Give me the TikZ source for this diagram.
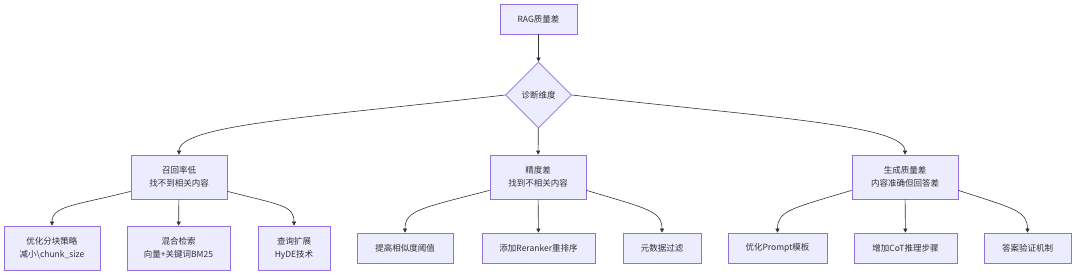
\documentclass[tikz,border=0pt]{standalone}
\usepackage{fontspec}
\setmainfont{Noto Sans CJK SC}
\usetikzlibrary{shapes.geometric,arrows.meta}
\definecolor{nodefill}{HTML}{ECECFF}
\definecolor{nodeline}{HTML}{9370DB}
\definecolor{txt}{HTML}{333333}
\tikzset{
  box/.style={draw=nodeline, fill=nodefill, line width=0.7pt, rectangle, align=center, inner sep=0pt, text=txt, font=\fontsize{8.5}{13}\selectfont},
  dia/.style={draw=nodeline, fill=nodefill, line width=0.7pt, diamond, aspect=1, minimum size=66pt, inner sep=0pt, text=txt, font=\fontsize{8.5}{13}\selectfont},
  edge/.style={draw=txt, line width=0.6pt, -{Triangle[length=4pt,width=4pt]}}
}
\begin{document}
\begin{tikzpicture}[x=1pt,y=-1pt]
\useasboundingbox (0,0) rectangle (1080,276);
\fill[white] (0,0) rectangle (1080,276);
\node[box, minimum width=77pt, minimum height=30pt] (rag) at (538.5,19) {RAG质量差};
\node[dia] (diag) at (538.5,95) {诊断维度};
\node[box, minimum width=96pt, minimum height=44pt] (r1) at (179,177) {召回率低\\找不到相关内容};
\node[box, minimum width=96pt, minimum height=44pt] (r2) at (538,177) {精度差\\找到不相关内容};
\node[box, minimum width=106pt, minimum height=44pt] (r3) at (905,177) {生成质量差\\内容准确但回答差};
\node[box, minimum width=96pt, minimum height=44pt] (l1) at (52,248) {优化分块策略\\减小\textbackslash chunk\_size};
\node[box, minimum width=103pt, minimum height=44pt] (l2) at (178.5,248) {混合检索\\向量+关键词BM25};
\node[box, minimum width=72pt, minimum height=44pt] (l3) at (294,248) {查询扩展\\HyDE技术};
\node[box, minimum width=96pt, minimum height=30pt] (l4) at (405,248) {提高相似度阈值};
\node[box, minimum width=113pt, minimum height=30pt] (l5) at (538.5,248) {添加Reranker重排序};
\node[box, minimum width=78pt, minimum height=30pt] (l6) at (662,248) {元数据过滤};
\node[box, minimum width=99pt, minimum height=30pt] (l7) at (777.5,248) {优化Prompt模板};
\node[box, minimum width=103pt, minimum height=30pt] (l8) at (905.5,248) {增加CoT推理步骤};
\node[box, minimum width=87pt, minimum height=30pt] (l9) at (1027.5,248) {答案验证机制};
\draw[edge] (rag) -- (diag);
\draw[edge] (diag.west) .. controls +(-190,22) and +(0,-30) .. (r1.north);
\draw[edge] (diag) -- (r2);
\draw[edge] (diag.east) .. controls +(190,22) and +(0,-30) .. (r3.north);
\draw[edge] ([yshift=8pt]r1.south west) .. controls +(-55,14) and +(0,-20) .. (l1.north);
\draw[edge] (r1) -- (l2);
\draw[edge] ([yshift=8pt]r1.south east) .. controls +(55,14) and +(0,-20) .. (l3.north);
\draw[edge] ([yshift=9pt]r2.south west) .. controls +(-70,18) and +(0,-22) .. (l4.north);
\draw[edge] (r2) -- (l5);
\draw[edge] ([yshift=9pt]r2.south east) .. controls +(60,18) and +(0,-22) .. (l6.north);
\draw[edge] ([yshift=9pt]r3.south west) .. controls +(-60,18) and +(0,-22) .. (l7.north);
\draw[edge] (r3) -- (l8);
\draw[edge] ([yshift=9pt]r3.south east) .. controls +(55,18) and +(0,-22) .. (l9.north);
\end{tikzpicture}
\end{document}
